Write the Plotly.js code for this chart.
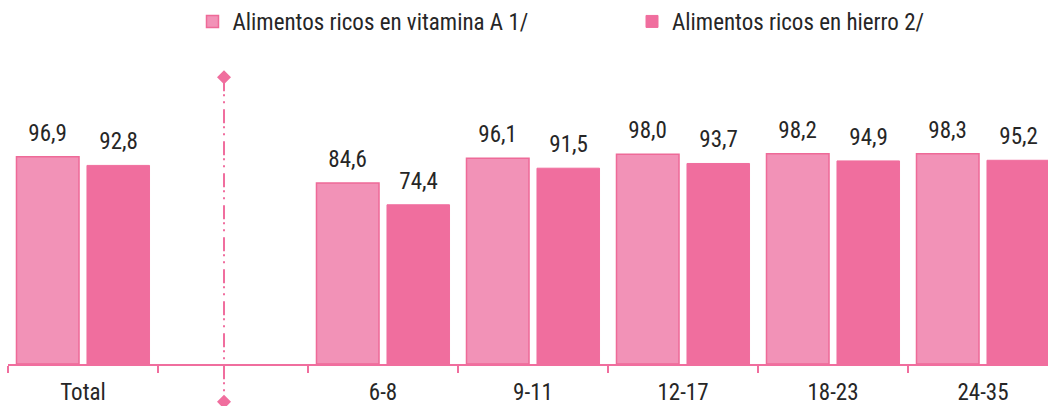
<!DOCTYPE html>
<html>
<head>
<meta charset="utf-8">
<script src="https://cdn.plot.ly/plotly-3.0.1.min.js"></script>
<style>
html,body{margin:0;padding:0;background:#fff;}
#chart{width:1048px;height:406px;}
#chart text{font-stretch:75% !important;}
</style>
</head>
<body>
<div id="chart"></div>
<script>
const categories = ['Total', ' ', '6-8', '9-11', '12-17', '18-23', '24-35'];
const vitaminaA = [96.9, null, 84.6, 96.1, 98.0, 98.2, 98.3];
const hierro = [92.8, null, 74.4, 91.5, 93.7, 94.9, 95.2];
const seriesNames = ['Alimentos ricos en vitamina A 1/', 'Alimentos ricos en hierro 2/'];

const FONT = 'Roboto, "Liberation Sans", Arial, sans-serif';
const FS = 23;
const TXT = '#262626';
const LIGHT = '#F292B7';
const DARK = '#F06E9E';
const EDGE = '#EE6A98';

const fmt = v => v.toFixed(1).replace('.', ',');

const traces = [
  {type: 'bar', name: seriesNames[0], x: categories, y: vitaminaA, legend: 'legend',
   marker: {color: LIGHT, line: {color: EDGE, width: 1.5}}, hoverinfo: 'skip'},
  {type: 'bar', name: seriesNames[1], x: categories, y: hierro, legend: 'legend2',
   marker: {color: DARK, line: {color: DARK, width: 1}}, hoverinfo: 'skip'}
];

const annotations = [];
[vitaminaA, hierro].forEach((arr, si) => {
  arr.forEach((v, i) => {
    if (v === null) return;
    annotations.push({
      x: i + (si === 0 ? -0.235 : 0.235), y: v, xref: 'x', yref: 'y',
      text: fmt(v), showarrow: false, yanchor: 'bottom', yshift: 8,
      font: {family: FONT, size: FS, color: TXT}
    });
  });
});

const sepX = 0.94;
const yTop = 1.3395, yBot = -0.1767;
const diamond = 'M0,7 L7,0 L0,-7 L-7,0 Z';
const shapes = [
  {type: 'line', xref: 'x', yref: 'paper', x0: sepX, x1: sepX, y0: yTop, y1: yBot,
   line: {color: DARK, width: 2, dash: '14px,3px,2px,5px,2px,6px'}},
  {type: 'path', xref: 'x', yref: 'paper', xsizemode: 'pixel', ysizemode: 'pixel',
   xanchor: sepX, yanchor: yTop, path: diamond, fillcolor: DARK, line: {width: 0}},
  {type: 'path', xref: 'x', yref: 'paper', xsizemode: 'pixel', ysizemode: 'pixel',
   xanchor: sepX, yanchor: yBot, path: diamond, fillcolor: DARK, line: {width: 0}}
];

const legendBase = {orientation: 'h', xanchor: 'left', y: 1.6, yanchor: 'middle',
  font: {family: FONT, size: FS, color: TXT}, bgcolor: 'rgba(0,0,0,0)', itemclick: false};

const layout = {
  width: 1048, height: 406,
  margin: {l: 8, r: 0, t: 149, b: 42, pad: 0},
  paper_bgcolor: '#fff', plot_bgcolor: '#fff',
  separators: ',.',
  barmode: 'group', bargap: 0.06, bargroupgap: 0.113,
  font: {family: FONT, size: FS, color: TXT},
  showlegend: true,
  legend: Object.assign({}, legendBase, {x: 0.1774}),
  legend2: Object.assign({}, legendBase, {x: 0.6}),
  xaxis: {type: 'category', categoryorder: 'array', categoryarray: categories,
          range: [-0.5, 6.4333], autorange: false, showline: true, linecolor: DARK, linewidth: 2,
          ticks: 'outside', tickson: 'boundaries', ticklen: 7, tickwidth: 1.5, tickcolor: DARK,
          ticklabelstandoff: 6, showgrid: false, zeroline: false, fixedrange: true,
          tickfont: {family: FONT, size: FS, color: TXT}},
  yaxis: {range: [0, 100], autorange: false, visible: false, showgrid: false, zeroline: false, fixedrange: true},
  annotations: annotations,
  shapes: shapes
};

Plotly.newPlot('chart', traces, layout, {displayModeBar: false, staticPlot: true});
</script>
</body>
</html>
